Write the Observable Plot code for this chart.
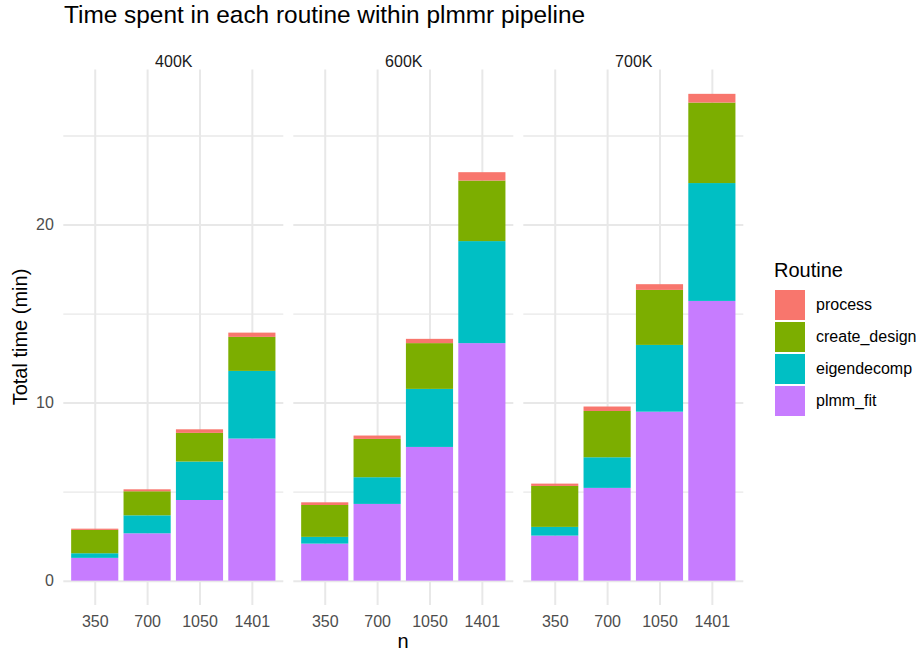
<!DOCTYPE html>
<html>
<head>
<meta charset="utf-8">
<script src="https://cdn.jsdelivr.net/npm/d3@7"></script>
<script src="https://cdn.jsdelivr.net/npm/@observablehq/plot@0.6"></script>
<style>
  body { margin: 0; background: #fff; font-family: "Liberation Sans", Arial, Helvetica, sans-serif; }
  #wrap { position: relative; width: 921px; height: 651px; overflow: hidden; }
  #title { position: absolute; left: 64px; top: 0; height: 36px; line-height: 29px; font-size: 24.4px; color: #000; white-space: nowrap; }
  #chart { position: absolute; left: 0; top: 36px; }
  .axtitle { position: absolute; font-size: 20px; color: #000; white-space: nowrap; text-align: center; }
  #legend { position: absolute; left: 774px; top: 258px; }
  #legend .ltitle { font-size: 20px; line-height: 24px; height: 24px; color: #000; margin-bottom: 7px; margin-left: 0px; }
  #legend .row { display: flex; align-items: center; height: 32px; }
  #legend .sw { width: 30px; height: 30px; margin-left: 0.5px; }
  #legend .lab { font-size: 16px; color: #000; margin-left: 11.5px; line-height: 30px; }
</style>
</head>
<body>
<div id="wrap">
  <div id="title">Time spent in each routine within plmmr pipeline</div>
  <div id="chart"></div>
  <div class="axtitle" id="ytitle" style="left:-80px; top:325px; width:200px; height:24px; line-height:24px; transform: rotate(-90deg); transform-origin: 100px 12px;">Total time (min)</div>
  <div class="axtitle" id="xtitle" style="left:303px; top:629px; width:200px; height:24px; line-height:24px;">n</div>
  <div id="legend"></div>
</div>
<script>
// ---- data ----
const facets = ["400K", "600K", "700K"];
const nLabels = ["350", "700", "1050", "1401"];
// stacking order, bottom to top
const stackOrder = ["plmm_fit", "eigendecomp", "create_design", "process"];
// legend order and colours
const legendRoutines = ["process", "create_design", "eigendecomp", "plmm_fit"];
const legendColors = ["#F8766D", "#7CAE00", "#00BFC4", "#C77CFF"];

// minutes per routine; order: 400K(350,700,1050,1401), 600K(...), 700K(...)
const plmmFit      = [1.28, 2.66, 4.53, 7.98,   2.08, 4.31, 7.51, 13.34,   2.53, 5.21, 9.49, 15.71];
const eigendecomp  = [0.26, 1.01, 2.16, 3.80,   0.38, 1.50, 3.26, 5.73,    0.49, 1.72, 3.75, 6.62];
const createDesign = [1.31, 1.35, 1.61, 1.91,   1.79, 2.15, 2.57, 3.40,    2.30, 2.60, 3.09, 4.52];
const processTime  = [0.07, 0.11, 0.20, 0.24,   0.15, 0.19, 0.24, 0.47,    0.13, 0.25, 0.32, 0.49];

const yMajorTicks = [0, 10, 20];
const yMinorTicks = [5, 15, 25];

const seriesByRoutine = {
  plmm_fit: plmmFit,
  eigendecomp: eigendecomp,
  create_design: createDesign,
  process: processTime
};

const rows = [];
facets.forEach((f, fi) => {
  nLabels.forEach((n, ni) => {
    stackOrder.forEach(r => {
      rows.push({facet: f, n: n, routine: r, time: seriesByRoutine[r][fi * nLabels.length + ni]});
    });
  });
});

const totals = d3.rollups(rows, v => d3.sum(v, d => d.time), d => d.facet + "|" + d.n).map(d => d[1]);
const yMax = d3.max(totals);

const gridColor = "#e8e8e8";

const chart = Plot.plot({
  width: 921,
  height: 615,
  marginTop: 33.5,
  marginBottom: 46,
  marginLeft: 63.3,
  marginRight: 177.7,
  style: {fontFamily: "'Liberation Sans', Arial, Helvetica, sans-serif", fontSize: "16px", background: "transparent", overflow: "visible"},
  fx: {domain: facets, paddingInner: 0.0435, paddingOuter: 0, round: false, axis: null, label: null},
  x: {domain: nLabels, paddingInner: 0.1, paddingOuter: 0.15, round: false, label: null},
  y: {domain: [-0.05 * yMax, 1.05 * yMax], label: null},
  color: {domain: legendRoutines, range: legendColors},
  marks: [
    Plot.gridY(yMinorTicks, {stroke: gridColor, strokeOpacity: 1, strokeWidth: 1.3}),
    Plot.gridY(yMajorTicks, {stroke: gridColor, strokeOpacity: 1, strokeWidth: 2}),
    Plot.gridX(nLabels, {stroke: gridColor, strokeOpacity: 1, strokeWidth: 2}),
    Plot.barY(rows, {fx: "facet", x: "n", y: "time", fill: "routine"}),
    Plot.axisX({tickSize: 0, tickPadding: 10, color: "#4d4d4d", fontSize: 16, label: null}),
    Plot.axisY(yMajorTicks, {tickSize: 0, tickPadding: 10, color: "#4d4d4d", fontSize: 16, label: null}),
    Plot.text(facets, {fx: d => d, text: d => d, frameAnchor: "top", dy: -14, fontSize: 16, fill: "#1a1a1a"})
  ]
});
document.getElementById("chart").appendChild(chart);

// legend built from the same arrays
const legend = document.getElementById("legend");
const lt = document.createElement("div");
lt.className = "ltitle";
lt.textContent = "Routine";
legend.appendChild(lt);
legendRoutines.forEach((r, i) => {
  const row = document.createElement("div");
  row.className = "row";
  const sw = document.createElement("div");
  sw.className = "sw";
  sw.style.background = legendColors[i];
  const lab = document.createElement("div");
  lab.className = "lab";
  lab.textContent = r;
  row.appendChild(sw);
  row.appendChild(lab);
  legend.appendChild(row);
});
</script>
</body>
</html>
